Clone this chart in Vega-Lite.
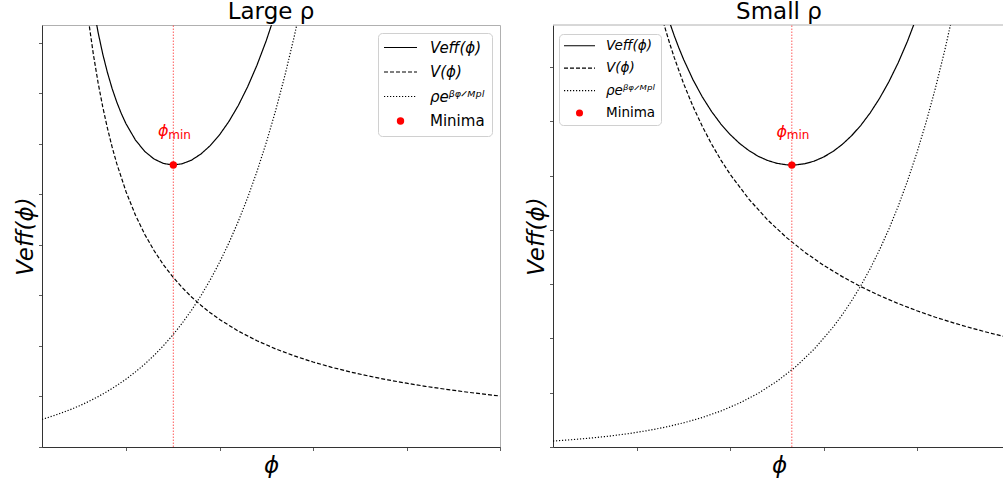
{
  "$schema": "https://vega.github.io/schema/vega-lite/v6.json",
  "background": "white",
  "padding": {"left": 13, "top": 0, "right": 0, "bottom": 0},
  "config": {
    "font": "DejaVu Sans",
    "view": {"stroke": "#b0b0b0", "strokeWidth": 1},
    "axis": {
      "grid": false,
      "labels": false,
      "tickSize": 3.5,
      "tickColor": "#333",
      "tickWidth": 0.8,
      "domainColor": "#333",
      "domainWidth": 1,
      "titleFont": "DejaVu Sans",
      "titleFontSize": 23,
      "titleFontWeight": "normal",
      "titleFontStyle": "italic",
      "titleColor": "#000"
    },
    "title": {"font": "DejaVu Sans", "fontSize": 23, "fontWeight": "normal", "color": "#000", "offset": 1, "frame": "group"},
    "legend": {
      "title": null,
      "fillColor": "white",
      "strokeColor": "#d0d0d0",
      "cornerRadius": 4,
      "labelFont": "DejaVu Sans",
      "labelColor": "#000",
      "symbolType": "stroke",
      "symbolStrokeWidth": 1.2
    }
  },
  "datasets": {
    "largeCurves": [
      {"curve": "Veff", "phi": 0.5, "v": 10.916},
      {"curve": "Veff", "phi": 0.55, "v": 10.04},
      {"curve": "Veff", "phi": 0.6, "v": 9.319},
      {"curve": "Veff", "phi": 0.65, "v": 8.717},
      {"curve": "Veff", "phi": 0.7, "v": 8.211},
      {"curve": "Veff", "phi": 0.75, "v": 7.781},
      {"curve": "Veff", "phi": 0.8, "v": 7.415},
      {"curve": "Veff", "phi": 0.85, "v": 7.099},
      {"curve": "Veff", "phi": 0.9, "v": 6.829},
      {"curve": "Veff", "phi": 0.95, "v": 6.596},
      {"curve": "Veff", "phi": 1.0, "v": 6.396},
      {"curve": "Veff", "phi": 1.1, "v": 6.078},
      {"curve": "Veff", "phi": 1.2, "v": 5.851},
      {"curve": "Veff", "phi": 1.3, "v": 5.701},
      {"curve": "Veff", "phi": 1.4, "v": 5.614},
      {"curve": "Veff", "phi": 1.5, "v": 5.585},
      {"curve": "Veff", "phi": 1.6, "v": 5.608},
      {"curve": "Veff", "phi": 1.7, "v": 5.681},
      {"curve": "Veff", "phi": 1.8, "v": 5.801},
      {"curve": "Veff", "phi": 1.9, "v": 5.968},
      {"curve": "Veff", "phi": 2.0, "v": 6.183},
      {"curve": "Veff", "phi": 2.1, "v": 6.447},
      {"curve": "Veff", "phi": 2.2, "v": 6.762},
      {"curve": "Veff", "phi": 2.3, "v": 7.133},
      {"curve": "Veff", "phi": 2.4, "v": 7.561},
      {"curve": "Veff", "phi": 2.5, "v": 8.05},
      {"curve": "Veff", "phi": 2.6, "v": 8.607},
      {"curve": "V", "phi": 0.5, "v": 10.1},
      {"curve": "V", "phi": 0.55, "v": 9.182},
      {"curve": "V", "phi": 0.6, "v": 8.417},
      {"curve": "V", "phi": 0.65, "v": 7.769},
      {"curve": "V", "phi": 0.7, "v": 7.214},
      {"curve": "V", "phi": 0.75, "v": 6.733},
      {"curve": "V", "phi": 0.8, "v": 6.313},
      {"curve": "V", "phi": 0.85, "v": 5.941},
      {"curve": "V", "phi": 0.9, "v": 5.611},
      {"curve": "V", "phi": 1.0, "v": 5.05},
      {"curve": "V", "phi": 1.1, "v": 4.591},
      {"curve": "V", "phi": 1.2, "v": 4.208},
      {"curve": "V", "phi": 1.3, "v": 3.885},
      {"curve": "V", "phi": 1.4, "v": 3.607},
      {"curve": "V", "phi": 1.5, "v": 3.367},
      {"curve": "V", "phi": 1.6, "v": 3.156},
      {"curve": "V", "phi": 1.7, "v": 2.971},
      {"curve": "V", "phi": 1.8, "v": 2.806},
      {"curve": "V", "phi": 1.9, "v": 2.658},
      {"curve": "V", "phi": 2.0, "v": 2.525},
      {"curve": "V", "phi": 2.2, "v": 2.295},
      {"curve": "V", "phi": 2.4, "v": 2.104},
      {"curve": "V", "phi": 2.6, "v": 1.942},
      {"curve": "V", "phi": 2.8, "v": 1.804},
      {"curve": "V", "phi": 3.0, "v": 1.683},
      {"curve": "V", "phi": 3.2, "v": 1.578},
      {"curve": "V", "phi": 3.4, "v": 1.485},
      {"curve": "V", "phi": 3.6, "v": 1.403},
      {"curve": "V", "phi": 3.8, "v": 1.329},
      {"curve": "V", "phi": 4.0, "v": 1.263},
      {"curve": "V", "phi": 4.2, "v": 1.202},
      {"curve": "V", "phi": 4.4, "v": 1.148},
      {"curve": "V", "phi": 4.6, "v": 1.098},
      {"curve": "V", "phi": 4.8, "v": 1.052},
      {"curve": "V", "phi": 5.0, "v": 1.01},
      {"curve": "rho", "phi": 0.1, "v": 0.547},
      {"curve": "rho", "phi": 0.2, "v": 0.605},
      {"curve": "rho", "phi": 0.3, "v": 0.668},
      {"curve": "rho", "phi": 0.4, "v": 0.738},
      {"curve": "rho", "phi": 0.5, "v": 0.816},
      {"curve": "rho", "phi": 0.6, "v": 0.902},
      {"curve": "rho", "phi": 0.7, "v": 0.997},
      {"curve": "rho", "phi": 0.8, "v": 1.102},
      {"curve": "rho", "phi": 0.9, "v": 1.218},
      {"curve": "rho", "phi": 1.0, "v": 1.346},
      {"curve": "rho", "phi": 1.1, "v": 1.487},
      {"curve": "rho", "phi": 1.2, "v": 1.643},
      {"curve": "rho", "phi": 1.3, "v": 1.816},
      {"curve": "rho", "phi": 1.4, "v": 2.007},
      {"curve": "rho", "phi": 1.5, "v": 2.218},
      {"curve": "rho", "phi": 1.6, "v": 2.452},
      {"curve": "rho", "phi": 1.7, "v": 2.71},
      {"curve": "rho", "phi": 1.8, "v": 2.995},
      {"curve": "rho", "phi": 1.9, "v": 3.31},
      {"curve": "rho", "phi": 2.0, "v": 3.658},
      {"curve": "rho", "phi": 2.1, "v": 4.042},
      {"curve": "rho", "phi": 2.2, "v": 4.467},
      {"curve": "rho", "phi": 2.3, "v": 4.937},
      {"curve": "rho", "phi": 2.4, "v": 5.457},
      {"curve": "rho", "phi": 2.5, "v": 6.03},
      {"curve": "rho", "phi": 2.6, "v": 6.665},
      {"curve": "rho", "phi": 2.7, "v": 7.366},
      {"curve": "rho", "phi": 2.8, "v": 8.14},
      {"curve": "rho", "phi": 2.9, "v": 8.996}
    ],
    "largeMin": [{"curve": "Minima", "phi": 1.505, "v": 5.585}],
    "smallCurves": [
      {"curve": "Veff", "phi": 1.2, "v": 8.696},
      {"curve": "Veff", "phi": 1.25, "v": 8.378},
      {"curve": "Veff", "phi": 1.3, "v": 8.087},
      {"curve": "Veff", "phi": 1.35, "v": 7.82},
      {"curve": "Veff", "phi": 1.4, "v": 7.573},
      {"curve": "Veff", "phi": 1.45, "v": 7.347},
      {"curve": "Veff", "phi": 1.5, "v": 7.138},
      {"curve": "Veff", "phi": 1.6, "v": 6.766},
      {"curve": "Veff", "phi": 1.7, "v": 6.449},
      {"curve": "Veff", "phi": 1.8, "v": 6.178},
      {"curve": "Veff", "phi": 1.9, "v": 5.947},
      {"curve": "Veff", "phi": 2.0, "v": 5.753},
      {"curve": "Veff", "phi": 2.1, "v": 5.591},
      {"curve": "Veff", "phi": 2.2, "v": 5.459},
      {"curve": "Veff", "phi": 2.3, "v": 5.354},
      {"curve": "Veff", "phi": 2.4, "v": 5.277},
      {"curve": "Veff", "phi": 2.5, "v": 5.225},
      {"curve": "Veff", "phi": 2.6, "v": 5.198},
      {"curve": "Veff", "phi": 2.7, "v": 5.195},
      {"curve": "Veff", "phi": 2.8, "v": 5.217},
      {"curve": "Veff", "phi": 2.9, "v": 5.265},
      {"curve": "Veff", "phi": 3.0, "v": 5.34},
      {"curve": "Veff", "phi": 3.1, "v": 5.441},
      {"curve": "Veff", "phi": 3.2, "v": 5.572},
      {"curve": "Veff", "phi": 3.3, "v": 5.732},
      {"curve": "Veff", "phi": 3.4, "v": 5.925},
      {"curve": "Veff", "phi": 3.5, "v": 6.154},
      {"curve": "Veff", "phi": 3.6, "v": 6.42},
      {"curve": "Veff", "phi": 3.7, "v": 6.726},
      {"curve": "Veff", "phi": 3.8, "v": 7.076},
      {"curve": "Veff", "phi": 3.9, "v": 7.475},
      {"curve": "Veff", "phi": 4.0, "v": 7.926},
      {"curve": "V", "phi": 1.2, "v": 8.367},
      {"curve": "V", "phi": 1.25, "v": 8.032},
      {"curve": "V", "phi": 1.3, "v": 7.723},
      {"curve": "V", "phi": 1.35, "v": 7.437},
      {"curve": "V", "phi": 1.4, "v": 7.171},
      {"curve": "V", "phi": 1.5, "v": 6.693},
      {"curve": "V", "phi": 1.6, "v": 6.275},
      {"curve": "V", "phi": 1.7, "v": 5.906},
      {"curve": "V", "phi": 1.8, "v": 5.578},
      {"curve": "V", "phi": 1.9, "v": 5.284},
      {"curve": "V", "phi": 2.0, "v": 5.02},
      {"curve": "V", "phi": 2.2, "v": 4.564},
      {"curve": "V", "phi": 2.4, "v": 4.183},
      {"curve": "V", "phi": 2.6, "v": 3.862},
      {"curve": "V", "phi": 2.8, "v": 3.586},
      {"curve": "V", "phi": 3.0, "v": 3.347},
      {"curve": "V", "phi": 3.2, "v": 3.138},
      {"curve": "V", "phi": 3.4, "v": 2.953},
      {"curve": "V", "phi": 3.6, "v": 2.789},
      {"curve": "V", "phi": 3.8, "v": 2.642},
      {"curve": "V", "phi": 4.0, "v": 2.51},
      {"curve": "V", "phi": 4.2, "v": 2.39},
      {"curve": "V", "phi": 4.4, "v": 2.282},
      {"curve": "V", "phi": 4.6, "v": 2.183},
      {"curve": "V", "phi": 4.8, "v": 2.092},
      {"curve": "V", "phi": 5.0, "v": 2.008},
      {"curve": "rho", "phi": 0.1, "v": 0.11},
      {"curve": "rho", "phi": 0.3, "v": 0.134},
      {"curve": "rho", "phi": 0.5, "v": 0.164},
      {"curve": "rho", "phi": 0.7, "v": 0.2},
      {"curve": "rho", "phi": 0.9, "v": 0.244},
      {"curve": "rho", "phi": 1.1, "v": 0.298},
      {"curve": "rho", "phi": 1.3, "v": 0.364},
      {"curve": "rho", "phi": 1.5, "v": 0.445},
      {"curve": "rho", "phi": 1.7, "v": 0.543},
      {"curve": "rho", "phi": 1.9, "v": 0.663},
      {"curve": "rho", "phi": 2.1, "v": 0.81},
      {"curve": "rho", "phi": 2.3, "v": 0.989},
      {"curve": "rho", "phi": 2.5, "v": 1.209},
      {"curve": "rho", "phi": 2.7, "v": 1.476},
      {"curve": "rho", "phi": 2.9, "v": 1.803},
      {"curve": "rho", "phi": 3.1, "v": 2.202},
      {"curve": "rho", "phi": 3.2, "v": 2.434},
      {"curve": "rho", "phi": 3.3, "v": 2.69},
      {"curve": "rho", "phi": 3.4, "v": 2.972},
      {"curve": "rho", "phi": 3.5, "v": 3.285},
      {"curve": "rho", "phi": 3.6, "v": 3.631},
      {"curve": "rho", "phi": 3.7, "v": 4.012},
      {"curve": "rho", "phi": 3.8, "v": 4.434},
      {"curve": "rho", "phi": 3.9, "v": 4.901},
      {"curve": "rho", "phi": 4.0, "v": 5.416},
      {"curve": "rho", "phi": 4.1, "v": 5.986},
      {"curve": "rho", "phi": 4.2, "v": 6.615},
      {"curve": "rho", "phi": 4.3, "v": 7.311},
      {"curve": "rho", "phi": 4.4, "v": 8.08}
    ],
    "smallMin": [{"curve": "Minima", "phi": 2.66, "v": 5.192}]
  },
  "spacing": 24,
  "resolve": {
    "scale": {"x": "independent", "y": "independent", "color": "independent", "strokeDash": "independent"},
    "legend": {"color": "independent", "strokeDash": "independent"}
  },
  "hconcat": [
    {
      "title": {"text": "Large ρ"},
      "width": 458,
      "height": 422,
      "encoding": {
        "x": {"field": "phi", "type": "quantitative", "scale": {"domain": [0.1, 5], "nice": false, "zero": false},
              "axis": {"values": [1, 2, 3, 4, 5], "title": "ϕ", "titlePadding": 4}},
        "y": {"field": "v", "type": "quantitative", "scale": {"domain": [0, 8.356], "nice": false},
              "axis": {"values": [0, 1, 2, 3, 4, 5, 6, 7, 8], "title": "Veff(ϕ)", "titlePadding": 1}}
      },
      "layer": [
        {
          "data": {"name": "largeCurves"},
          "mark": {"type": "line", "clip": true, "strokeWidth": 1.2},
          "encoding": {
            "color": {"field": "curve", "type": "nominal",
                      "scale": {"domain": ["Veff", "V", "rho", "Minima"], "range": ["black", "black", "black", "red"]},
                      "legend": {"orient": "top-right", "offset": 8, "padding": 7, "labelFontSize": 15, "rowPadding": 8.5,
                                 "symbolOffset": 8, "labelOffset": 22,
                                 "labelExpr": "datum.value === 'Veff' ? 'Veff(ϕ)' : datum.value === 'V' ? 'V(ϕ)' : datum.value === 'rho' ? 'ρeᵝᵠᐟᴹᵖˡ' : 'Minima'",
                                 "encode": {
                                   "labels": {"update": {"fontStyle": {"signal": "datum.value === 'Minima' ? 'normal' : 'italic'"}}},
                                   "symbols": {"update": {
                                     "shape": {"signal": "datum.value === 'Minima' ? 'circle' : 'stroke'"},
                                     "size": {"signal": "datum.value === 'Minima' ? 55 : 1089"},
                                     "fill": {"signal": "datum.value === 'Minima' ? 'red' : 'transparent'"},
                                     "strokeWidth": {"signal": "datum.value === 'Minima' ? 0 : 1.2"}
                                   }}
                                 }}},
            "strokeDash": {"field": "curve", "type": "nominal",
                           "scale": {"domain": ["Veff", "V", "rho", "Minima"], "range": [[1, 0], [4, 2], [1.2, 1.8], [1, 0]]},
                           "legend": {"orient": "top-right", "offset": 8, "padding": 7, "labelFontSize": 15, "rowPadding": 8.5,
                                      "symbolOffset": 8, "labelOffset": 22,
                                      "labelExpr": "datum.value === 'Veff' ? 'Veff(ϕ)' : datum.value === 'V' ? 'V(ϕ)' : datum.value === 'rho' ? 'ρeᵝᵠᐟᴹᵖˡ' : 'Minima'"}}
          }
        },
        {
          "data": {"name": "largeMin"},
          "mark": {"type": "rule", "color": "#ff3333", "opacity": 0.8, "strokeDash": [1.5, 1.5], "strokeWidth": 1},
          "encoding": {"y": {"datum": 0, "type": "quantitative"}, "y2": {"datum": 8.356}}
        },
        {
          "data": {"name": "largeMin"},
          "mark": {"type": "point", "filled": true, "size": 55, "opacity": 1},
          "encoding": {"color": {"field": "curve", "type": "nominal"}}
        },
        {
          "data": {"name": "largeMin"},
          "mark": {"type": "text", "text": "ϕ", "color": "red", "fontSize": 16, "fontStyle": "italic", "align": "center", "baseline": "alphabetic", "dx": -10, "dy": -28.5}
        },
        {
          "data": {"name": "largeMin"},
          "mark": {"type": "text", "text": "min", "color": "red", "fontSize": 12, "align": "left", "baseline": "alphabetic", "dx": -5, "dy": -26}
        }
      ]
    },
    {
      "title": {"text": "Small ρ"},
      "width": 452,
      "height": 422,
      "view": {"stroke": null},
      "encoding": {
        "x": {"field": "phi", "type": "quantitative", "scale": {"domain": [0.1, 4.945], "nice": false, "zero": false},
              "axis": {"values": [1, 2, 3, 4], "title": "ϕ", "titlePadding": 4}},
        "y": {"field": "v", "type": "quantitative", "scale": {"domain": [0, 7.772], "nice": false},
              "axis": {"values": [0, 1, 2, 3, 4, 5, 6, 7], "title": "Veff(ϕ)", "titlePadding": 1}}
      },
      "layer": [
        {
          "data": {"name": "smallMin"},
          "mark": {"type": "rule", "color": "#b0b0b0", "strokeWidth": 1},
          "encoding": {"x": {"datum": 0.1, "type": "quantitative"}, "x2": {"datum": 4.945}, "y": {"datum": 7.772, "type": "quantitative"}}
        },
        {
          "data": {"name": "smallCurves"},
          "mark": {"type": "line", "clip": true, "strokeWidth": 1.2},
          "encoding": {
            "color": {"field": "curve", "type": "nominal",
                      "scale": {"domain": ["Veff", "V", "rho", "Minima"], "range": ["black", "black", "black", "red"]},
                      "legend": {"orient": "none", "legendX": 6, "legendY": 9, "padding": 5, "labelFontSize": 13.5, "rowPadding": 7.4,
                                 "symbolOffset": 8.75, "labelOffset": 19.75,
                                 "labelExpr": "datum.value === 'Veff' ? 'Veff(ϕ)' : datum.value === 'V' ? 'V(ϕ)' : datum.value === 'rho' ? 'ρeᵝᵠᐟᴹᵖˡ' : 'Minima'",
                                 "encode": {
                                   "labels": {"update": {"fontStyle": {"signal": "datum.value === 'Minima' ? 'normal' : 'italic'"}}},
                                   "symbols": {"update": {
                                     "shape": {"signal": "datum.value === 'Minima' ? 'circle' : 'stroke'"},
                                     "size": {"signal": "datum.value === 'Minima' ? 50 : 961"},
                                     "fill": {"signal": "datum.value === 'Minima' ? 'red' : 'transparent'"},
                                     "strokeWidth": {"signal": "datum.value === 'Minima' ? 0 : 1.2"}
                                   }}
                                 }}},
            "strokeDash": {"field": "curve", "type": "nominal",
                           "scale": {"domain": ["Veff", "V", "rho", "Minima"], "range": [[1, 0], [4, 2], [1.2, 1.8], [1, 0]]},
                           "legend": {"orient": "none", "legendX": 6, "legendY": 9, "padding": 5, "labelFontSize": 13.5, "rowPadding": 7.4,
                                      "symbolOffset": 8.75, "labelOffset": 19.75,
                                      "labelExpr": "datum.value === 'Veff' ? 'Veff(ϕ)' : datum.value === 'V' ? 'V(ϕ)' : datum.value === 'rho' ? 'ρeᵝᵠᐟᴹᵖˡ' : 'Minima'"}}
          }
        },
        {
          "data": {"name": "smallMin"},
          "mark": {"type": "rule", "color": "#ff3333", "opacity": 0.8, "strokeDash": [1.5, 1.5], "strokeWidth": 1},
          "encoding": {"y": {"datum": 0, "type": "quantitative"}, "y2": {"datum": 7.772}}
        },
        {
          "data": {"name": "smallMin"},
          "mark": {"type": "point", "filled": true, "size": 55, "opacity": 1},
          "encoding": {"color": {"field": "curve", "type": "nominal"}}
        },
        {
          "data": {"name": "smallMin"},
          "mark": {"type": "text", "text": "ϕ", "color": "red", "fontSize": 16, "fontStyle": "italic", "align": "center", "baseline": "alphabetic", "dx": -10, "dy": -28.5}
        },
        {
          "data": {"name": "smallMin"},
          "mark": {"type": "text", "text": "min", "color": "red", "fontSize": 12, "align": "left", "baseline": "alphabetic", "dx": -5, "dy": -26}
        }
      ]
    }
  ]
}
